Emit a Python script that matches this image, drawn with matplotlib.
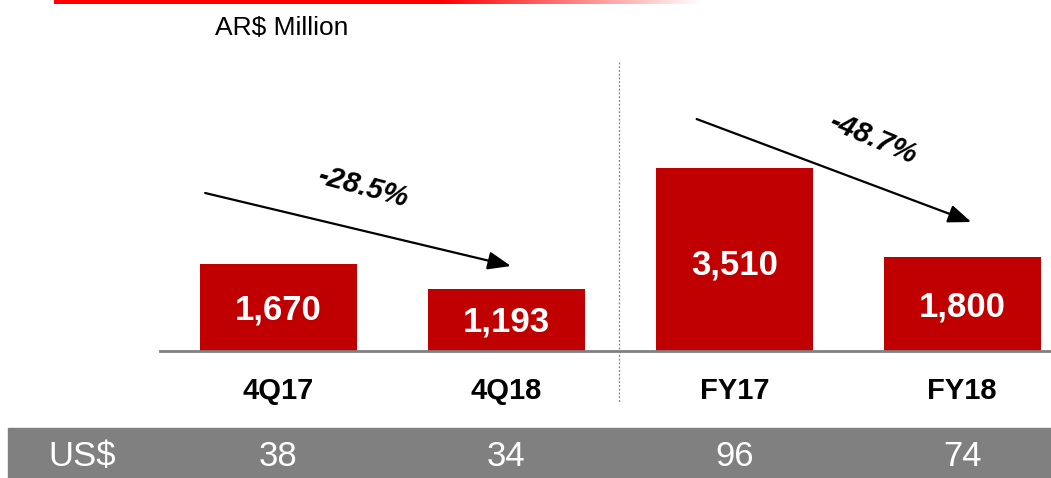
import numpy as np
import matplotlib.pyplot as plt
from matplotlib.patches import Rectangle
from matplotlib.transforms import blended_transform_factory

plt.rcParams['font.family'] = ['Liberation Sans', 'DejaVu Sans']

categories = ['4Q17', '4Q18', 'FY17', 'FY18']
ars_values = [1670, 1193, 3510, 1800]
usd_values = [38, 34, 96, 74]
changes = ['-28.5%', '-48.7%']

W, H = 1051, 478
fig = plt.figure(figsize=(W / 100, H / 100), dpi=100)

# main axes: baseline at y=351 px, from x=160 to right edge
ax = fig.add_axes([160 / W, (H - 351) / H, 891 / W, 291 / H])
x = np.arange(len(categories))
ax.bar(x, ars_values, width=0.69, color='#C00000', zorder=2)
ax.set_xlim(-0.52, 3.39)
ax.set_ylim(0, 5575)
for s in ['top', 'right', 'left']:
    ax.spines[s].set_visible(False)
ax.spines['bottom'].set_color('#808080')
ax.spines['bottom'].set_linewidth(2)
ax.set_yticks([])
ax.set_xticks(x)
ax.set_xticklabels(categories, fontsize=21, fontweight='bold')
ax.tick_params(axis='x', length=0, pad=19)

# values inside bars
for xi, v in zip(x, ars_values):
    ax.text(xi, v * 0.47, f'{v:,}', ha='center', va='center', color='white',
            fontsize=25, fontweight='bold')

# trend arrows
arrowprops = dict(arrowstyle='-|>,head_length=1.4,head_width=0.55', color='black', lw=1.6,
                  shrinkA=0, shrinkB=0)
ax.annotate('', xy=(1.02, 1628), xytext=(-0.322, 3027), arrowprops=arrowprops, annotation_clip=False)
ax.annotate('', xy=(3.04, 2471), xytext=(1.835, 4444), arrowprops=arrowprops, annotation_clip=False)
ax.text(0.37, 3142, changes[0], ha='center', va='center', rotation=-15,
        fontsize=21, fontweight='bold', fontstyle='italic', rotation_mode='anchor')
ax.text(2.607, 4061, changes[1], ha='center', va='center', rotation=-23,
        fontsize=21, fontweight='bold', fontstyle='italic', rotation_mode='anchor')

# dotted separator
fig.add_artist(plt.Line2D([619 / W, 619 / W], [(H - 62) / H, (H - 403) / H],
                          color='#808080', lw=0.9, linestyle=(0, (1.5, 1.5))))

# unit label
fig.text(282 / W, (H - 28) / H, 'AR$ Million', ha='center', va='center', fontsize=19)

# red top line fading to the right
lax = fig.add_axes([54 / W, (H - 4) / H, 650 / W, 4 / H])
lax.axis('off')
grad = np.ones((1, 256, 4))
grad[..., 0] = 1.0
grad[..., 1] = 0.0
grad[..., 2] = 0.0
grad[0, :, 3] = np.clip((1 - np.linspace(0, 1, 256)) / 0.4, 0, 1)
lax.imshow(grad, aspect='auto', extent=[0, 1, 0, 1])

# US$ band
fig.patches.append(Rectangle((8 / W, 0), 1 - 8 / W, 50 / H, transform=fig.transFigure,
                             color='#808080', zorder=-1))
fig.text(82 / W, 22 / H, 'US$', ha='center', va='center', color='white', fontsize=25)
bt = blended_transform_factory(ax.transData, fig.transFigure)
for xi, v in zip(x, usd_values):
    ax.text(xi, 22 / H, str(v), transform=bt, ha='center', va='center', color='white',
            fontsize=25, clip_on=False)

fig.savefig('out.png', dpi=100)
